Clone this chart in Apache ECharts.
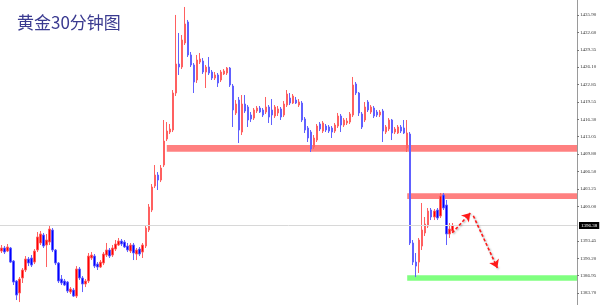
<!DOCTYPE html>
<html>
<head>
<meta charset="utf-8">
<script src="https://cdn.jsdelivr.net/npm/echarts/dist/echarts.min.js"></script>
<style>
html,body{margin:0;padding:0;background:#fff;}
#chart{width:600px;height:305px;}
</style>
</head>
<body>
<div id="chart"></div>
<script>
// Chart title
const chartTitle = '黄金30分钟图';

// OHLC candles: [open, close, low, high]
const candles = [
[1391.58,1392.15,1391.21,1392.71],[1392.15,1391.39,1391.02,1392.52],[1391.58,1392.34,1391.39,1392.90],
[1392.15,1389.51,1389.33,1392.34],[1389.70,1385.76,1385.20,1389.89],[1385.95,1383.32,1382.38,1386.14],
[1383.70,1386.33,1382.00,1386.71],[1386.52,1388.02,1385.58,1388.39],[1388.02,1390.08,1387.64,1390.64],
[1390.08,1389.33,1388.76,1390.46],[1390.27,1388.95,1388.58,1390.83],[1389.51,1391.58,1389.14,1391.96],
[1391.77,1394.22,1391.39,1395.15],[1393.09,1394.78,1392.71,1395.34],[1394.59,1392.52,1392.15,1394.97],
[1392.71,1393.65,1388.58,1394.78],[1393.27,1395.71,1392.71,1396.46],[1395.53,1391.77,1391.39,1395.90],
[1391.77,1389.33,1388.95,1391.96],[1389.33,1385.95,1385.58,1389.51],[1386.33,1385.58,1385.20,1387.08],
[1385.95,1385.20,1385.01,1386.33],[1385.76,1384.07,1383.70,1385.95],[1383.88,1384.45,1383.51,1384.82],
[1384.26,1383.13,1382.95,1384.63],[1383.13,1388.21,1382.76,1388.76],[1388.21,1386.52,1386.14,1388.58],
[1386.52,1385.39,1383.88,1386.89],[1385.39,1385.95,1384.82,1386.33],[1385.95,1390.64,1385.58,1391.21],
[1390.27,1390.83,1389.89,1391.39],[1390.64,1388.76,1388.39,1391.02],[1389.14,1388.58,1388.02,1389.51],
[1388.58,1389.51,1388.39,1389.89],[1389.33,1391.02,1388.95,1391.39],[1390.83,1391.77,1390.46,1393.09],
[1391.77,1390.64,1390.27,1392.15],[1390.83,1392.15,1390.46,1392.71],[1391.96,1392.90,1391.58,1393.65],
[1392.71,1393.46,1392.52,1394.03],[1393.46,1392.90,1392.52,1393.84],[1393.27,1392.34,1392.15,1393.65],
[1392.52,1391.77,1391.39,1393.09],[1391.58,1392.71,1391.21,1393.09],[1392.71,1391.21,1389.89,1393.09],
[1391.02,1391.77,1389.89,1392.15],[1391.96,1391.02,1390.64,1392.34],[1391.39,1392.71,1390.27,1393.09],
[1392.52,1395.90,1392.15,1396.27],[1395.53,1399.85,1395.15,1400.41],[1399.28,1403.60,1398.90,1404.16],
[1403.79,1405.85,1403.41,1407.73],[1405.85,1404.91,1403.04,1406.41],[1404.91,1407.17,1404.53,1407.73],
[1407.73,1412.23,1407.35,1416.18],[1412.61,1414.11,1412.23,1415.80],[1413.92,1414.49,1413.55,1415.43],
[1414.30,1421.25,1413.92,1421.81],[1421.25,1426.69,1420.69,1435.90],[1426.69,1426.13,1424.63,1432.52],
[1426.13,1431.20,1425.75,1432.14],[1430.64,1434.21,1430.26,1437.40],[1434.58,1428.39,1428.01,1434.96],
[1428.39,1426.51,1426.13,1428.95],[1426.51,1423.31,1421.25,1426.88],[1423.69,1427.44,1423.13,1428.39],
[1427.06,1427.63,1426.69,1428.76],[1427.25,1425.19,1424.82,1427.82],[1425.19,1426.13,1422.19,1426.51],
[1426.13,1425.00,1424.63,1428.01],[1425.19,1424.06,1423.69,1425.57],[1424.06,1424.63,1423.69,1425.19],
[1424.63,1423.13,1422.38,1425.00],[1423.69,1425.19,1423.31,1425.57],[1424.82,1425.38,1424.63,1425.75],
[1425.00,1425.94,1424.63,1426.13],[1425.94,1422.75,1422.38,1426.13],[1422.56,1418.06,1414.87,1422.94],
[1417.50,1419.18,1417.12,1419.93],[1419.93,1414.30,1411.86,1420.50],[1413.92,1419.18,1413.36,1420.87],
[1419.18,1417.87,1417.50,1420.87],[1418.62,1416.18,1414.87,1418.99],[1417.12,1416.37,1415.80,1417.68],
[1416.55,1418.06,1416.18,1418.43],[1417.87,1418.43,1417.50,1418.81],[1418.43,1417.68,1417.50,1418.81],
[1418.06,1417.12,1416.74,1418.43],[1417.68,1418.62,1417.31,1420.50],[1418.62,1416.74,1415.62,1418.99],
[1418.06,1417.12,1415.24,1420.12],[1416.93,1418.62,1416.55,1418.99],[1417.50,1418.25,1416.93,1418.81],
[1418.25,1416.74,1416.18,1418.62],[1417.12,1419.18,1416.74,1419.74],[1418.99,1421.06,1418.62,1421.81],
[1420.31,1419.37,1418.99,1421.25],[1419.37,1420.69,1419.18,1421.06],[1419.93,1419.37,1419.18,1420.50],
[1418.99,1419.56,1418.62,1420.12],[1419.37,1416.18,1415.80,1419.74],[1416.37,1414.30,1413.74,1416.74],
[1414.68,1412.80,1412.05,1415.05],[1413.92,1410.74,1410.17,1414.30],[1411.11,1412.80,1410.74,1413.36],
[1412.42,1415.05,1412.05,1415.43],[1415.43,1414.49,1414.11,1415.80],[1414.11,1415.62,1413.74,1415.99],
[1415.05,1414.30,1413.92,1415.43],[1414.87,1414.11,1413.74,1415.24],[1414.68,1413.92,1412.80,1415.05],
[1414.11,1415.24,1413.74,1415.62],[1415.05,1416.93,1414.68,1417.50],[1416.93,1415.24,1413.92,1417.31],
[1415.24,1416.18,1414.87,1416.55],[1415.62,1415.99,1415.24,1416.55],[1415.80,1417.31,1415.43,1417.68],
[1417.12,1422.75,1416.74,1424.26],[1422.94,1421.25,1420.87,1423.31],[1421.25,1417.50,1416.93,1421.44],
[1417.31,1414.87,1414.49,1417.68],[1416.18,1418.62,1415.80,1419.56],[1419.56,1418.06,1417.68,1419.93],
[1417.68,1418.62,1417.31,1418.99],[1418.43,1416.93,1416.55,1418.81],[1417.68,1417.12,1416.74,1418.06],
[1417.12,1417.68,1416.74,1418.06],[1417.87,1414.11,1412.05,1418.25],[1413.92,1414.87,1413.55,1415.24],
[1414.49,1416.18,1414.11,1416.55],[1416.18,1413.74,1412.42,1416.37],[1413.92,1414.49,1413.55,1414.87],
[1413.74,1414.87,1413.55,1415.24],[1414.87,1414.11,1413.74,1415.24],[1414.68,1413.74,1413.55,1416.18],
[1410.92,1413.74,1410.17,1416.18],[1413.55,1393.09,1392.71,1413.92],[1393.09,1389.51,1388.95,1393.65],
[1389.51,1388.76,1386.70,1391.21],[1389.51,1393.65,1387.46,1394.03],[1392.52,1395.53,1391.77,1400.60],
[1394.97,1396.65,1394.40,1397.97],[1396.27,1399.09,1395.90,1399.66],[1399.28,1397.97,1397.40,1399.66],
[1397.97,1399.09,1397.40,1399.47],[1399.28,1397.78,1397.40,1399.66],[1398.16,1401.91,1397.78,1402.48],
[1402.10,1399.66,1399.28,1402.48],[1400.22,1394.78,1392.71,1401.16],[1394.78,1395.71,1394.03,1396.84],
[1395.34,1396.38,1394.97,1396.84]
];

// Number of bar slots on the x axis (data plus empty space on the right)
const slotCount = 192;
const categories = [];
for (let i = 0; i < slotCount; i++) categories.push(String(i));

// Y axis tick labels
const tickValues = [1383.70,1386.95,1390.20,1393.45,1400.00,1403.25,1406.50,1409.80,1413.05,1416.30,1419.55,1422.85,1426.10,1429.35,1432.60,1435.90];
const yMin = 1381.45;
const yMax = 1438.71;

// Current price
const lastPrice = 1396.38;

// Zones: [start bar index, low price, high price]
const resistanceZone1 = [55, 1410.20, 1411.49];
const resistanceZone2 = [135, 1401.35, 1402.42];
const supportZone = [135, 1386.01, 1387.02];

// Forecast arrows: [[startBar, startPrice], [endBar, endPrice]]
const arrowUp = [[150, 1395.0], [156, 1398.7]];
const arrowDown = [[157, 1398.2], [165, 1388.4]];

const zoneRed = '#ff8080';
const zoneGreen = '#80ff80';

function zone(z, color) {
  return [{xAxis: String(z[0]), yAxis: z[2], itemStyle: {color: color, opacity: 1}}, {yAxis: z[1]}];
}
const arrowStyle = {color: '#ff1a1a', width: 1.6, type: [3, 2], shadowColor: 'rgba(0,0,0,0.35)', shadowBlur: 2, shadowOffsetX: 1, shadowOffsetY: 1};
function arrow(a) {
  return [
    {coord: [String(a[0][0]), a[0][1]], symbol: 'none', lineStyle: arrowStyle, label: {show: false}},
    {coord: [String(a[1][0]), a[1][1]], symbol: 'arrow', symbolSize: 8, label: {show: false}}
  ];
}

const chart = echarts.init(document.getElementById('chart'), null, {renderer: 'canvas'});
chart.setOption({
  animation: false,
  backgroundColor: '#ffffff',
  title: {
    text: chartTitle,
    left: 17, top: 14, padding: 0,
    textStyle: {fontFamily: 'Noto Sans CJK SC', fontSize: 17, fontWeight: 'normal', color: '#3a3a90'}
  },
  grid: {left: 0, right: 23, top: 0, bottom: 0, containLabel: false},
  xAxis: {
    type: 'category', data: categories, show: false, boundaryGap: true
  },
  yAxis: {
    type: 'value', position: 'right', min: yMin, max: yMax, scale: true,
    axisLine: {show: true, lineStyle: {color: '#9a9a9a', width: 1}},
    axisTick: {show: true, inside: false, length: 2, lineStyle: {color: '#777'}, customValues: tickValues},
    axisLabel: {show: true, customValues: tickValues, fontSize: 5, fontFamily: 'Liberation Serif', color: '#333', margin: 3,
      formatter: v => Number(v).toFixed(2)},
    splitLine: {show: false}
  },
  series: [{
    type: 'candlestick',
    data: candles,
    barWidth: 2,
    itemStyle: {color: '#ff0000', color0: '#0000ff', borderColor: '#ff6060', borderColor0: '#6060ff', borderWidth: 1},
    markArea: {
      silent: true,
      data: [zone(resistanceZone1, zoneRed), zone(resistanceZone2, zoneRed), zone(supportZone, zoneGreen)]
    },
    markLine: {
      silent: true,
      symbol: ['none', 'none'],
      data: [
        {yAxis: lastPrice, lineStyle: {color: '#d8d8d8', width: 1, type: 'solid'},
          label: {show: true, position: 'end', formatter: lastPrice.toFixed(2), backgroundColor: '#000', color: '#fff',
            fontSize: 5, fontFamily: 'Liberation Serif', padding: [1, 2], distance: 2}},
        arrow(arrowUp),
        arrow(arrowDown)
      ]
    }
  }]
});
</script>
</body>
</html>
